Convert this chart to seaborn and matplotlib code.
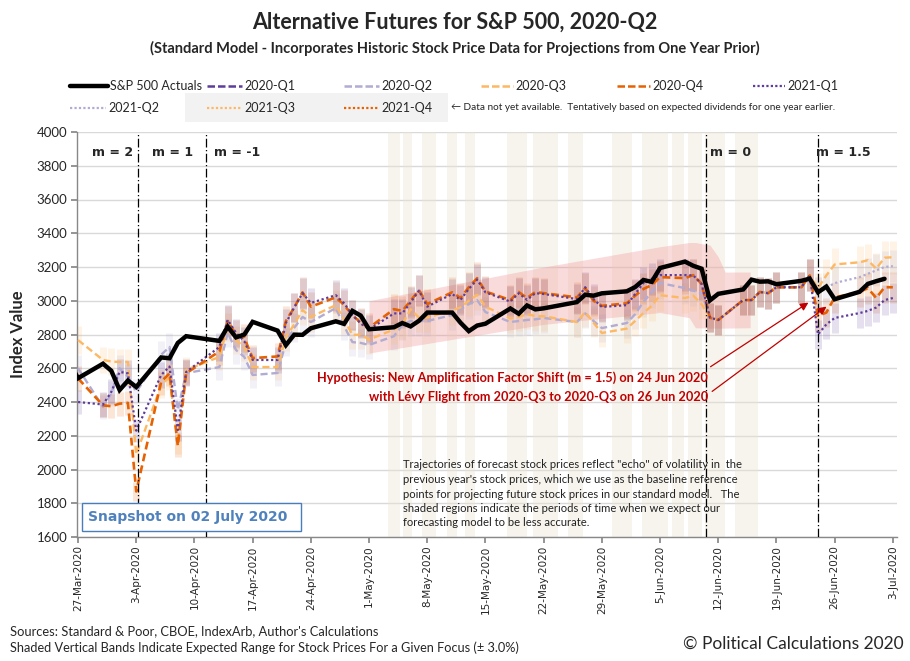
import numpy as np
import pandas as pd
import matplotlib
matplotlib.use("Agg")
import matplotlib.pyplot as plt
import matplotlib.dates as mdates
from matplotlib.lines import Line2D
from matplotlib.patches import Rectangle
import seaborn as sns

# ---------------- data ----------------
actual_dates = ["2020-03-26","2020-03-27","2020-03-30","2020-03-31","2020-04-01","2020-04-02","2020-04-03",
    "2020-04-06","2020-04-07","2020-04-08","2020-04-09","2020-04-13","2020-04-14","2020-04-15","2020-04-16",
    "2020-04-17","2020-04-20","2020-04-21","2020-04-22","2020-04-23","2020-04-24","2020-04-27","2020-04-28",
    "2020-04-29","2020-04-30","2020-05-01","2020-05-04","2020-05-05","2020-05-06","2020-05-07","2020-05-08",
    "2020-05-11","2020-05-12","2020-05-13","2020-05-14","2020-05-15","2020-05-18","2020-05-19","2020-05-20",
    "2020-05-21","2020-05-22","2020-05-26","2020-05-27","2020-05-28","2020-05-29","2020-06-01","2020-06-02",
    "2020-06-03","2020-06-04","2020-06-05","2020-06-08","2020-06-09","2020-06-10","2020-06-11","2020-06-12",
    "2020-06-15","2020-06-16","2020-06-17","2020-06-18","2020-06-19","2020-06-22","2020-06-23","2020-06-24",
    "2020-06-25","2020-06-26","2020-06-29","2020-06-30","2020-07-01","2020-07-02"]
actual_values = [2630, 2541, 2627, 2585, 2471, 2527, 2489, 2664, 2659, 2750, 2790, 2762, 2846, 2783, 2800,
    2875, 2823, 2737, 2799, 2798, 2837, 2878, 2863, 2940, 2912, 2831, 2843, 2868, 2848, 2881, 2930, 2930,
    2870, 2820, 2853, 2864, 2954, 2923, 2972, 2949, 2955, 2992, 3036, 3030, 3044, 3056, 3081, 3123, 3112,
    3194, 3232, 3207, 3190, 3002, 3041, 3067, 3125, 3113, 3115, 3098, 3118, 3131, 3050, 3084, 3009, 3053,
    3100, 3116, 3130]

forecast_dates = actual_dates[1:] + ["2020-07-03"]

f2020_q2 = [2600, 2370, 2450, 2600, 2550, 2460, 2680, 2726, 2353, 2571,
            2607, 2810, 2708, 2667, 2560, 2572, 2755, 2840, 2904, 2874,
            2957, 2850, 2755, 2750, 2738, 2790, 2856, 2880, 2880, 2880,
            2915, 2950, 2980, 3004, 2933, 2874, 2880, 2886, 2890, 2898,
            2874, 2925, 2880, 2838, 2868, 2920, 2993, 3050, 3105, 3075,
            3060, 3045, 2900, 2886, 3004, 3004, 3052, 3045, 3080, 3080,
            3150, 3050, None, None, None, None, None, None, None]
f2020_q3 = [2767, 2649, 2640, 2637, 2637, 2090, 2500, 2548, 2157, 2590,
            2667, 2845, 2767, 2726, 2607, 2607, 2785, 2860, 2945, 2904,
            2974, 2890, 2797, 2800, 2770, 2830, 2860, 2950, 2900, 2900,
            2945, 2960, 3000, 3035, 2965, 2895, 2905, 2920, 2910, 2908,
            2874, 2933, 2870, 2809, 2835, 2880, 2927, 2970, 3033, 3016,
            3030, 2980, 2900, 2886, 3004, 3004, 3052, 3045, 3080, 3080,
            3150, 3075, 3150, 3215, 3228, 3240, 3190, 3255, 3258]
f2020_q4 = [2540, 2380, 2375, 2390, 2395, 1870, 2520, 2570, 2140, 2570,
            2700, 2880, 2800, 2780, 2660, 2670, 2880, 2960, 3050, 2965,
            3020, 2975, 2915, 2870, 2840, 2950, 2940, 3000, 3063, 2980,
            3050, 3016, 3080, 3134, 3055, 3004, 3052, 3016, 3052, 3045,
            3020, 3075, 3000, 2970, 2985, 3030, 3070, 3093, 3140, 3134,
            3152, 3100, 2900, 2886, 3004, 3004, 3052, 3045, 3080, 3080,
            3150, 2910, 2930, 3020, 3052, 3075, 3016, 3080, 3080]
f2021_q1 = [2400, 2385, 2460, 2578, 2570, 2230, 2560, 2610, 2234, 2578,
            2726, 2886, 2810, 2760, 2649, 2649, 2868, 2960, 3045, 2987,
            3033, 2985, 2915, 2865, 2830, 2925, 2925, 2990, 3060, 2965,
            3040, 3005, 3070, 3125, 3050, 2995, 3045, 3005, 3045, 3040,
            3010, 3080, 3010, 2963, 2974, 3040, 3105, 3130, 3152, 3152,
            3150, 3100, 2900, 2886, 3004, 3004, 3052, 3045, 3080, 3080,
            3150, 2800, 2860, 2898, 2927, 2940, 2960, 3004, 3016]
f2021_q2 = [None] * 61 + [3050, 3075, 3105, 3140, 3160, 3180, 3200, 3205]

pink_dates = ["2020-05-01 00:00", "2020-05-22 00:00", "2020-06-05 00:00", "2020-06-08 12:00", "2020-06-09 06:00",
              "2020-06-11 00:00", "2020-06-12 00:00", "2020-06-12 20:00", "2020-06-15 20:00"]
pink_low = [2690, 2860, 2930, 2900, 2840, 2838, 2838, 2838, 2840]
pink_high = [3000, 3200, 3320, 3345, 3345, 3330, 3260, 3170, 3170]

band_starts = ["2020-05-03 07:00", "2020-05-05 02:00", "2020-05-07 10:00", "2020-05-10 10:00",
               "2020-05-12 12:00", "2020-05-17 14:00", "2020-05-20 17:00", "2020-05-24 22:00",
               "2020-05-30 05:00", "2020-06-02 19:00", "2020-06-06 10:00", "2020-06-08 10:00",
               "2020-06-10 10:00", "2020-06-14 00:00"]
band_ends = ["2020-05-04 17:00", "2020-05-06 05:00", "2020-05-09 00:00", "2020-05-11 14:00",
             "2020-05-13 17:00", "2020-05-20 00:00", "2020-05-23 17:00", "2020-05-26 19:00",
             "2020-06-01 14:00", "2020-06-05 22:00", "2020-06-07 22:00", "2020-06-10 00:00",
             "2020-06-12 19:00", "2020-06-16 19:00"]

regime_dates = ["2020-04-03 05:00", "2020-04-11 10:00", "2020-06-10 14:00", "2020-06-24 00:00"]
regime_labels = ["m = 2", "m = 1", "m = -1", "m = 0", "m = 1.5"]
regime_label_dates = ["2020-03-31 05:00", "2020-04-07 08:00", "2020-04-15 03:00", "2020-06-13 12:00", "2020-06-27 00:00"]

series_names = ["2020-Q1", "2020-Q2", "2020-Q3", "2020-Q4", "2021-Q1", "2021-Q2", "2021-Q3", "2021-Q4"]
tick_dates = pd.date_range("2020-03-27", "2020-07-03", freq="7D")

# ---------------- style ----------------
sns.set_theme(style="white")
plt.rcParams["font.family"] = ["Lato", "DejaVu Sans"]

c_dpurple = "#5e3c99"
c_lpurple = "#b2abd2"
c_lorange = "#fdb863"
c_dorange = "#e66101"
red = "#c00000"

W, H = 910, 661
fig = plt.figure(figsize=(W / 100, H / 100), dpi=100)
ax = fig.add_axes([77 / W, 1 - 537 / H, (897 - 77) / W, (537 - 132) / H])

fd = pd.to_datetime(forecast_dates)
df = pd.DataFrame({"date": fd,
                   "q2": pd.to_numeric(pd.Series(f2020_q2), errors="coerce").values,
                   "q3": f2020_q3, "q4": f2020_q4, "q21": f2021_q1,
                   "q22": pd.to_numeric(pd.Series(f2021_q2), errors="coerce").values})
act = pd.DataFrame({"date": pd.to_datetime(actual_dates), "value": actual_values})

# beige "less accurate" bands
for s, e in zip(band_starts, band_ends):
    ax.axvspan(pd.Timestamp(s), pd.Timestamp(e), color="#ebe5d3", alpha=0.4, lw=0, zorder=0.6)

# pink region
ax.fill_between(pd.to_datetime(pink_dates, format="mixed"), pink_low, pink_high,
                color="#f08080", alpha=0.28, lw=0, zorder=1)

# expected range bars (+/- 3%)
for col, color in [("q2", c_lpurple), ("q3", c_lorange), ("q4", c_dorange), ("q21", c_dpurple), ("q22", c_lpurple)]:
    sub = df.dropna(subset=[col])
    ax.vlines(sub["date"], sub[col] * 0.97, sub[col] * 1.03, colors=color, alpha=0.16, lw=5, zorder=2)

# forecast lines
line_specs = [("q2", c_lpurple, (0, (3, 1.6)), 1.7),
              ("q3", c_lorange, (0, (3, 1.6)), 1.7),
              ("q4", c_dorange, (0, (3, 1.6)), 1.9),
              ("q22", c_lpurple, (0, (1, 1.2)), 1.6),
              ("q21", c_dpurple, (0, (1, 1.2)), 1.6)]
for i, (col, color, ls, lw) in enumerate(line_specs):
    sub = df.dropna(subset=[col])
    sns.lineplot(data=sub, x="date", y=col, ax=ax, color=color, lw=lw, linestyle=ls,
                 estimator=None, sort=True, zorder=3 + i * 0.1)

# actuals
sns.lineplot(data=act, x="date", y="value", ax=ax, color="black", lw=3.2, estimator=None,
             zorder=5, solid_joinstyle="miter")

# regime lines & labels
for d in regime_dates:
    ax.axvline(pd.Timestamp(d), color="black", lw=0.9, linestyle=(0, (7, 2, 1, 2)), zorder=4)
for lab, d in zip(regime_labels, regime_label_dates):
    ax.text(pd.Timestamp(d), 3878, lab, ha="center", va="center", fontsize=9,
            fontweight="bold", family="DejaVu Sans", zorder=6)

# axes formatting
ax.set_xlim(pd.Timestamp("2020-03-26 21:00"), pd.Timestamp("2020-07-03 12:00"))
ax.set_ylim(1600, 4000)
ax.set_yticks(np.arange(1600, 4001, 200))
ax.set_xticks(tick_dates)
ax.xaxis.set_major_formatter(mdates.DateFormatter("%-d-%b-%Y"))
ax.tick_params(axis="x", rotation=90, labelsize=7.5, length=4, color="#888888", direction="out",
               bottom=True, pad=2)
for t in ax.get_xticklabels():
    t.set_family("DejaVu Sans")
ax.tick_params(axis="y", labelsize=9.5, length=4, color="#888888", direction="out", left=True, pad=3)
ax.yaxis.grid(True, color="#d9d9d9", lw=1)
ax.xaxis.grid(False)
ax.set_axisbelow(True)
for sp in ["top", "right"]:
    ax.spines[sp].set_visible(False)
for sp in ["left", "bottom"]:
    ax.spines[sp].set_color("#888888")
    ax.spines[sp].set_linewidth(1)
ax.set_xlabel("")
ax.set_ylabel("Index Value", fontsize=12, fontweight="bold", labelpad=6)
ax.yaxis.set_label_coords(-0.062, 0.5)

# arrows
ax.annotate("", xy=(pd.Timestamp("2020-06-23 03:00"), 2998), xytext=(pd.Timestamp("2020-06-10 19:00"), 2600),
            arrowprops=dict(arrowstyle="-|>", color=red, lw=0.9, mutation_scale=12), zorder=7)
ax.annotate("", xy=(pd.Timestamp("2020-06-25 07:00"), 2975), xytext=(pd.Timestamp("2020-06-11 00:00"), 2453),
            arrowprops=dict(arrowstyle="-|>", color=red, lw=0.9, mutation_scale=12), zorder=7)

# ---------------- figure texts ----------------
def fx(x):
    return x / W

def fy(y):
    return 1 - y / H

fig.text(fx(455), fy(22), "Alternative Futures for S&P 500, 2020-Q2", ha="center", va="center",
         fontsize=15.5, fontweight="bold")
fig.text(fx(455), fy(48), "(Standard Model - Incorporates Historic Stock Price Data for Projections from One Year Prior)",
         ha="center", va="center", fontsize=10.5, fontweight="bold")

# legend
fig.add_artist(Rectangle((fx(185), fy(122)), (448 - 185) / W, 29 / H, transform=fig.transFigure,
                         facecolor="#f2f2f2", edgecolor="none", zorder=0))
leg = [
    ("S&P 500 Actuals", "black", "-", 3.2, 70, 108, 86),
    ("2020-Q1", c_dpurple, (0, (3, 1.2)), 1.8, 207, 242, 86),
    ("2020-Q2", c_lpurple, (0, (3, 1.2)), 1.8, 344, 379, 86),
    ("2020-Q3", c_lorange, (0, (3, 1.2)), 1.8, 481, 513, 86),
    ("2020-Q4", c_dorange, (0, (3, 1.2)), 1.8, 617, 650, 86),
    ("2021-Q1", c_dpurple, (0, (1, 1)), 1.6, 753, 785, 86),
    ("2021-Q2", c_lpurple, (0, (1, 1)), 1.6, 70, 106, 108),
    ("2021-Q3", c_lorange, (0, (1, 1)), 1.6, 207, 242, 108),
    ("2021-Q4", c_dorange, (0, (1, 1)), 1.6, 344, 379, 108),
]
for name, color, ls, lw, x1, x2, y in leg:
    fig.add_artist(Line2D([fx(x1), fx(x2)], [fy(y), fy(y)], transform=fig.transFigure,
                          color=color, linestyle=ls, lw=lw))
    fig.text(fx(x2 + 2), fy(y), name, ha="left", va="center", fontsize=9)
fig.text(fx(451), fy(108), "\u2190 Data not yet available.  Tentatively based on expected dividends for one year earlier.",
         ha="left", va="center", fontsize=7.2, family=["Lato", "DejaVu Sans"])

# hypothesis
fig.text(fx(708), fy(378), "Hypothesis: New Amplification Factor Shift (m = 1.5) on 24 Jun 2020",
         ha="right", va="center", fontsize=9.2, fontweight="bold", color=red)
fig.text(fx(708), fy(397), "with L\u00e9vy Flight from 2020-Q3 to 2020-Q3 on 26 Jun 2020",
         ha="right", va="center", fontsize=9.2, fontweight="bold", color=red)

# explanatory note
note_lines = ["Trajectories of forecast stock prices reflect \"echo\" of volatility in  the",
              "previous year's stock prices, which we use as the baseline reference",
              "points for projecting future stock prices in our standard model.   The",
              "shaded regions indicate the periods of time when we expect our",
              "forecasting model to be less accurate."]
for i, line in enumerate(note_lines):
    fig.text(fx(403), fy(465 + i * 14.5), line, ha="left", va="center", fontsize=8.1, color="#222222")

# snapshot box
fig.add_artist(Rectangle((fx(82), fy(531)), (301 - 82) / W, 28 / H, transform=fig.transFigure,
                         facecolor="white", edgecolor="#4a7ebb", lw=1, zorder=8))
fig.text(fx(188), fy(517), "Snapshot on 02 July 2020", ha="center", va="center", fontsize=10,
         fontweight="bold", color="#4f81bd", family="DejaVu Sans", zorder=9)

# sources
fig.text(fx(10), fy(631), "Sources: Standard & Poor, CBOE, IndexArb, Author's Calculations",
         ha="left", va="center", fontsize=9.25)
fig.text(fx(10), fy(648), "Shaded Vertical Bands Indicate Expected Range for Stock Prices For a Given Focus (\u00b1 3.0%)",
         ha="left", va="center", fontsize=9.2)
fig.text(fx(904), fy(644), "\u00a9 Political Calculations 2020", ha="right", va="center", fontsize=12.5)

fig.savefig("out.png", dpi=100)
